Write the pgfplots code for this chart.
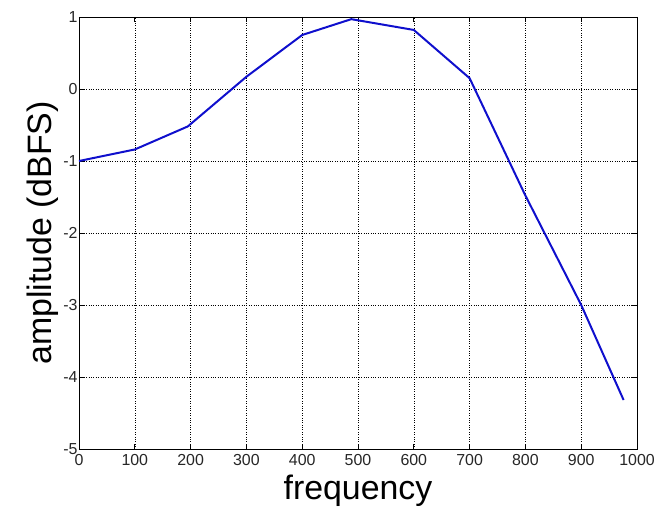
\documentclass[border=0pt]{standalone}
\usepackage{pgfplots}
\pgfplotsset{compat=1.18}
\usepackage{fontspec}
\setmainfont{Liberation Sans}
\usetikzlibrary{calc}
\definecolor{lineblue}{RGB}{15,15,205}
\begin{document}
\begin{tikzpicture}
\begin{axis}[
  scale only axis,
  width=558bp, height=432bp,
  xmin=0, xmax=1000, ymin=-5, ymax=1,
  xtick={0,100,...,1000},
  ytick={-5,-4,...,1},
  grid=major,
  major grid style={black, dotted, line width=0.6pt},
  tick align=inside,
  major tick length=5bp,
  axis line style={black, line width=0.8pt},
  tick style={black, line width=0.8pt},
  xtick pos=both, ytick pos=both,
  /pgf/number format/assume math mode=true,
  /pgf/number format/1000 sep={},
  ticklabel style={font=\fontsize{16}{17}\selectfont, text=black!85},
  xticklabel style={yshift=-2bp},
  yticklabel style={xshift=2bp},
  xlabel={frequency},
  ylabel={amplitude (dBFS)},
  label style={font=\fontsize{34}{38}\selectfont},
  xlabel style={yshift=-2bp},
  ylabel style={yshift=-2bp},
]
\addplot[lineblue, line width=2pt] coordinates {
  (0,-1.00) (100,-0.84) (195,-0.52) (300,0.17) (400,0.75)
  (488,0.97) (600,0.82) (700,0.15) (800,-1.48) (900,-3.00) (976,-4.32)
};
\end{axis}
\pgfresetboundingbox
\path ($(current axis.south west)+(-79bp,-64bp)$) rectangle ($(current axis.north east)+(20bp,17bp)$);
\end{tikzpicture}
\end{document}
